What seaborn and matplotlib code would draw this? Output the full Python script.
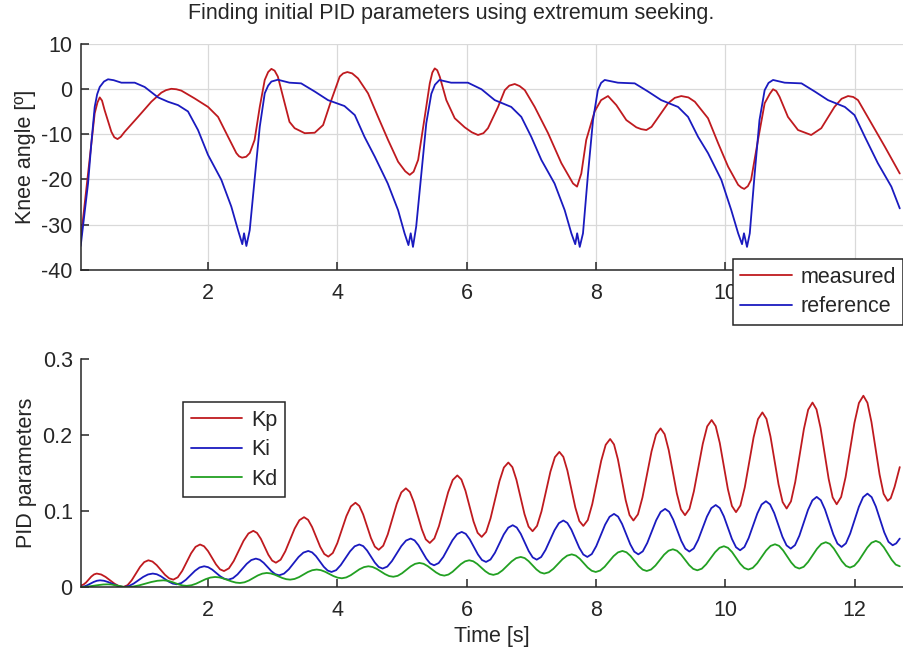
import matplotlib
matplotlib.use("Agg")
import pandas as pd
import seaborn as sns
import matplotlib.pyplot as plt

# knee angle (time [s], angle [deg])
meas_t = [0.03, 0.144, 0.247, 0.29, 0.325, 0.36, 0.4, 0.505, 0.55, 0.6,
          0.65, 0.71, 0.917, 1.123, 1.278, 1.35, 1.432, 1.51, 1.587, 1.79,
          2.0, 2.155, 2.31, 2.438, 2.48, 2.526, 2.59, 2.645, 2.72, 2.8,
          2.877, 2.93, 2.98, 3.03, 3.08, 3.186, 3.26, 3.34, 3.496, 3.65,
          3.78, 3.907, 4.037, 4.09, 4.155, 4.23, 4.32, 4.475, 4.63, 4.785,
          4.94, 5.05, 5.12, 5.18, 5.25, 5.352, 5.43, 5.47, 5.507, 5.545,
          5.584, 5.686, 5.816, 5.97, 6.08, 6.176, 6.26, 6.33, 6.486, 6.59,
          6.66, 6.744, 6.82, 6.9, 7.053, 7.26, 7.465, 7.646, 7.708, 7.774,
          7.85, 7.98, 8.08, 8.187, 8.316, 8.47, 8.625, 8.70, 8.78, 8.86,
          8.934, 9.115, 9.22, 9.32, 9.43, 9.53, 9.734, 9.89, 10.045, 10.2,
          10.25, 10.294, 10.35, 10.4, 10.507, 10.61, 10.69, 10.74, 10.79, 10.84,
          10.97, 11.126, 11.33, 11.486, 11.69, 11.8, 11.9, 11.98, 12.054, 12.26,
          12.47, 12.7]
meas_v = [-33.4, -18.7, -5.4, -3.0, -1.9, -2.6, -4.7, -9.5, -10.7, -11.1,
          -10.6, -9.5, -6.2, -2.85, -0.85, -0.3, 0.0, -0.1, -0.4, -2.1,
          -4.0, -6.2, -10.6, -14.2, -14.9, -15.2, -15.0, -14.2, -11.3, -4.0,
          1.95, 3.7, 4.4, 4.0, 2.7, -3.2, -7.3, -8.7, -9.8, -9.7,
          -8.0, -2.5, 2.7, 3.4, 3.7, 3.4, 2.3, -1.0, -6.2, -11.3,
          -16.1, -18.2, -19.0, -18.3, -15.7, -6.2, 1.2, 3.6, 4.5, 4.1,
          2.7, -2.5, -6.5, -8.5, -9.6, -10.2, -9.8, -8.7, -4.0, -0.3,
          0.7, 1.06, 0.6, -0.3, -4.0, -9.8, -16.4, -20.9, -21.6, -18.7,
          -11.3, -5.0, -2.5, -1.6, -3.6, -6.9, -8.5, -8.9, -9.1, -8.4,
          -6.9, -3.2, -2.0, -1.6, -1.9, -2.85, -6.5, -12.0, -17.2, -21.2,
          -21.8, -22.1, -21.5, -20.1, -11.3, -3.2, -1.1, -0.1, -0.5, -1.75,
          -6.2, -9.1, -10.2, -8.7, -4.0, -2.2, -1.6, -1.8, -2.5, -7.6,
          -12.8, -18.7]

ref_t = [0.03, 0.144, 0.195, 0.247, 0.285, 0.325, 0.39, 0.453, 0.54, 0.66,
         0.866, 1.02, 1.227, 1.38, 1.536, 1.69, 1.845, 2.0, 2.206, 2.36,
         2.464, 2.53, 2.557, 2.593, 2.645, 2.72, 2.8, 2.877, 2.93, 2.98,
         3.08, 3.26, 3.44, 3.65, 3.856, 4.11, 4.27, 4.42, 4.58, 4.78,
         4.94, 5.04, 5.1, 5.135, 5.17, 5.22, 5.3, 5.376, 5.454, 5.51,
         5.58, 5.76, 6.02, 6.23, 6.435, 6.69, 6.846, 7.0, 7.156, 7.36,
         7.517, 7.62, 7.68, 7.71, 7.75, 7.8, 7.878, 7.955, 8.03, 8.08,
         8.136, 8.34, 8.6, 8.806, 9.01, 9.27, 9.425, 9.58, 9.734, 9.94,
         10.094, 10.2, 10.26, 10.29, 10.337, 10.38, 10.456, 10.53, 10.61, 10.67,
         10.74, 10.92, 11.18, 11.385, 11.59, 11.85, 12.0, 12.16, 12.36, 12.57,
         12.7]
ref_v = [-34.7, -20.9, -12.0, -4.0, -1.2, 0.4, 1.6, 2.1, 1.9, 1.35,
         1.35, 0.4, -1.9, -2.85, -3.6, -5.0, -9.1, -14.6, -20.1, -26.0,
         -31.2, -34.3, -31.9, -34.7, -31.2, -20.1, -8.4, -1.0, 0.7, 1.6,
         2.0, 1.35, 1.2, -0.6, -2.5, -3.8, -5.8, -10.6, -15.0, -20.9,
         -26.8, -31.9, -34.5, -31.9, -34.9, -30.4, -18.7, -7.6, -1.1, 0.9,
         1.95, 1.35, 1.35, -0.1, -2.5, -4.0, -6.2, -10.6, -15.7, -20.9,
         -26.8, -31.9, -34.3, -31.9, -34.9, -31.9, -18.7, -6.9, -0.3, 1.3,
         1.95, 1.35, 1.2, -0.6, -2.5, -4.0, -6.2, -10.6, -14.2, -20.1,
         -26.8, -31.9, -34.3, -31.9, -34.9, -31.9, -18.7, -6.9, -0.3, 1.3,
         1.95, 1.35, 1.2, -0.6, -2.5, -4.0, -5.8, -10.6, -16.4, -21.6,
         -26.4]

# PID gains (one line per half swing)
kp_t = [0.03,
        0.071, 0.113, 0.154, 0.195, 0.237, 0.278,
        0.347, 0.415, 0.484, 0.553, 0.621, 0.69,
        0.755, 0.819, 0.884, 0.948, 1.013, 1.077,
        1.141, 1.206, 1.27, 1.334, 1.399, 1.463,
        1.532, 1.601, 1.67, 1.738, 1.807, 1.876,
        1.938, 2.0, 2.062, 2.123, 2.185, 2.247,
        2.323, 2.398, 2.474, 2.549, 2.625, 2.70,
        2.758, 2.817, 2.875, 2.933, 2.992, 3.05,
        3.123, 3.195, 3.268, 3.34, 3.413, 3.485,
        3.548, 3.61, 3.673, 3.735, 3.798, 3.86,
        3.93, 4.0, 4.07, 4.14, 4.21, 4.28,
        4.34, 4.4, 4.46, 4.52, 4.58, 4.64,
        4.71, 4.78, 4.85, 4.92, 4.99, 5.06,
        5.122, 5.183, 5.245, 5.307, 5.368, 5.43,
        5.501, 5.572, 5.643, 5.714, 5.785, 5.856,
        5.919, 5.982, 6.045, 6.107, 6.17, 6.233,
        6.302, 6.37, 6.439, 6.508, 6.576, 6.645,
        6.708, 6.77, 6.833, 6.895, 6.958, 7.02,
        7.089, 7.158, 7.227, 7.296, 7.365, 7.434,
        7.496, 7.558, 7.62, 7.681, 7.743, 7.805,
        7.874, 7.943, 8.013, 8.082, 8.151, 8.22,
        8.28, 8.34, 8.4, 8.46, 8.52, 8.58,
        8.65, 8.72, 8.79, 8.86, 8.93, 9.0,
        9.063, 9.126, 9.189, 9.252, 9.315, 9.378,
        9.447, 9.515, 9.584, 9.653, 9.721, 9.79,
        9.853, 9.916, 9.979, 10.041, 10.104, 10.167,
        10.235, 10.303, 10.371, 10.439, 10.507, 10.575,
        10.638, 10.7, 10.763, 10.825, 10.888, 10.95,
        11.017, 11.083, 11.15, 11.217, 11.283, 11.35,
        11.412, 11.475, 11.537, 11.6, 11.662, 11.724,
        11.793, 11.862, 11.931, 11.999, 12.068, 12.137,
        12.2, 12.262, 12.325, 12.388, 12.45, 12.513,
        12.56, 12.62, 12.7]
kp = [0.002,
      0.0031, 0.0059, 0.0099, 0.0138, 0.0166, 0.0177,
      0.0165, 0.0133, 0.0089, 0.0044, 0.0012, 0.0,
      0.0024, 0.0088, 0.0176, 0.0264, 0.0328, 0.0352,
      0.0335, 0.0288, 0.0225, 0.0161, 0.0114, 0.0097,
      0.0128, 0.0213, 0.0329, 0.0444, 0.0529, 0.056,
      0.0537, 0.0473, 0.0385, 0.0298, 0.0233, 0.021,
      0.0246, 0.0343, 0.0475, 0.0608, 0.0705, 0.074,
      0.0712, 0.0635, 0.053, 0.0425, 0.0348, 0.032,
      0.036, 0.047, 0.062, 0.077, 0.088, 0.092,
      0.0885, 0.079, 0.066, 0.053, 0.0435, 0.040,
      0.0448, 0.0578, 0.0755, 0.0933, 0.1062, 0.111,
      0.1068, 0.0955, 0.08, 0.0645, 0.0532, 0.049,
      0.0544, 0.0693, 0.0895, 0.1098, 0.1246, 0.130,
      0.1252, 0.112, 0.094, 0.076, 0.0628, 0.058,
      0.064, 0.0803, 0.1025, 0.1248, 0.141, 0.147,
      0.1416, 0.1268, 0.1065, 0.0863, 0.0714, 0.066,
      0.0726, 0.0905, 0.115, 0.1395, 0.1574, 0.164,
      0.1579, 0.1414, 0.1188, 0.0961, 0.0796, 0.0735,
      0.0805, 0.0996, 0.1258, 0.1519, 0.171, 0.178,
      0.1715, 0.1536, 0.1293, 0.1049, 0.087, 0.0805,
      0.0882, 0.1091, 0.1378, 0.1664, 0.1873, 0.195,
      0.1878, 0.1682, 0.1413, 0.1145, 0.0948, 0.0876,
      0.0957, 0.118, 0.1483, 0.1786, 0.2009, 0.209,
      0.2013, 0.1804, 0.1518, 0.1232, 0.1023, 0.0946,
      0.103, 0.126, 0.1573, 0.1887, 0.2116, 0.220,
      0.2119, 0.1897, 0.1593, 0.129, 0.1067, 0.0986,
      0.1074, 0.1315, 0.1643, 0.1972, 0.2212, 0.230,
      0.2215, 0.1984, 0.1667, 0.1351, 0.1119, 0.1034,
      0.1128, 0.1383, 0.1732, 0.2081, 0.2336, 0.243,
      0.234, 0.2095, 0.176, 0.1425, 0.118, 0.109,
      0.1186, 0.1448, 0.1805, 0.2163, 0.2424, 0.252,
      0.2427, 0.2174, 0.1828, 0.1481, 0.1228, 0.1135,
      0.117, 0.132, 0.158]

ki_t = [0.03,
        0.08, 0.13, 0.18, 0.23, 0.28, 0.33,
        0.392, 0.453, 0.515, 0.577, 0.638, 0.70,
        0.774, 0.848, 0.923, 0.997, 1.071, 1.145,
        1.207, 1.269, 1.331, 1.392, 1.454, 1.516,
        1.587, 1.657, 1.728, 1.799, 1.869, 1.94,
        2.002, 2.065, 2.127, 2.189, 2.252, 2.314,
        2.385, 2.456, 2.527, 2.598, 2.669, 2.74,
        2.8, 2.86, 2.92, 2.98, 3.04, 3.10,
        3.175, 3.25, 3.325, 3.40, 3.475, 3.55,
        3.61, 3.67, 3.73, 3.79, 3.85, 3.91,
        3.982, 4.053, 4.125, 4.197, 4.268, 4.34,
        4.4, 4.46, 4.52, 4.58, 4.64, 4.70,
        4.773, 4.845, 4.918, 4.99, 5.063, 5.135,
        5.195, 5.255, 5.316, 5.376, 5.436, 5.496,
        5.567, 5.639, 5.71, 5.781, 5.853, 5.924,
        5.987, 6.049, 6.112, 6.175, 6.237, 6.30,
        6.369, 6.438, 6.507, 6.575, 6.644, 6.713,
        6.775, 6.837, 6.899, 6.96, 7.022, 7.084,
        7.153, 7.221, 7.29, 7.359, 7.427, 7.496,
        7.558, 7.62, 7.682, 7.743, 7.805, 7.867,
        7.936, 8.005, 8.074, 8.142, 8.211, 8.28,
        8.343, 8.405, 8.468, 8.531, 8.593, 8.656,
        8.725, 8.794, 8.863, 8.932, 9.001, 9.07,
        9.133, 9.195, 9.258, 9.32, 9.383, 9.445,
        9.513, 9.581, 9.649, 9.717, 9.785, 9.853,
        9.916, 9.979, 10.042, 10.104, 10.167, 10.23,
        10.297, 10.363, 10.43, 10.497, 10.563, 10.63,
        10.694, 10.758, 10.822, 10.885, 10.949, 11.013,
        11.08, 11.147, 11.214, 11.281, 11.348, 11.415,
        11.479, 11.543, 11.608, 11.672, 11.736, 11.80,
        11.867, 11.933, 12.0, 12.067, 12.133, 12.2,
        12.265, 12.33, 12.395, 12.46, 12.525, 12.59,
        12.645, 12.70]
ki = [0.0,
      0.0006, 0.0022, 0.0044, 0.0066, 0.0082, 0.0088,
      0.0082, 0.0066, 0.0044, 0.0022, 0.0006, 0.0,
      0.0012, 0.0044, 0.0089, 0.0133, 0.0165, 0.0177,
      0.0168, 0.0142, 0.0107, 0.0071, 0.0045, 0.0036,
      0.0052, 0.0095, 0.0155, 0.0214, 0.0257, 0.0273,
      0.0261, 0.0229, 0.0185, 0.0141, 0.0109, 0.0097,
      0.0116, 0.0166, 0.0236, 0.0305, 0.0355, 0.0374,
      0.0359, 0.0319, 0.0264, 0.0209, 0.0169, 0.0154,
      0.0176, 0.0234, 0.0315, 0.0395, 0.0453, 0.0475,
      0.0456, 0.0406, 0.0337, 0.0267, 0.0217, 0.0198,
      0.0222, 0.0289, 0.0379, 0.047, 0.0536, 0.056,
      0.0539, 0.0481, 0.0402, 0.0322, 0.0264, 0.0243,
      0.0269, 0.0342, 0.0441, 0.0539, 0.0612, 0.0638,
      0.0614, 0.055, 0.0462, 0.0374, 0.031, 0.0286,
      0.0315, 0.0396, 0.0506, 0.0616, 0.0697, 0.0726,
      0.07, 0.0627, 0.0528, 0.0429, 0.0356, 0.033,
      0.0362, 0.0451, 0.0572, 0.0693, 0.0782, 0.0814,
      0.0784, 0.0701, 0.0587, 0.0474, 0.039, 0.036,
      0.0395, 0.0489, 0.0618, 0.0747, 0.0841, 0.0876,
      0.0844, 0.0756, 0.0636, 0.0516, 0.0428, 0.0396,
      0.0434, 0.0538, 0.068, 0.0821, 0.0925, 0.0963,
      0.0927, 0.083, 0.0697, 0.0563, 0.0466, 0.043,
      0.047, 0.058, 0.073, 0.0879, 0.0989, 0.1029,
      0.0991, 0.0889, 0.0748, 0.0608, 0.0505, 0.0467,
      0.0508, 0.062, 0.0774, 0.0927, 0.1039, 0.108,
      0.104, 0.0931, 0.0782, 0.0633, 0.0524, 0.0484,
      0.0527, 0.0646, 0.0807, 0.0969, 0.1087, 0.113,
      0.1088, 0.0974, 0.0818, 0.0662, 0.0548, 0.0506,
      0.0552, 0.0676, 0.0847, 0.1017, 0.1141, 0.1187,
      0.1143, 0.1022, 0.0858, 0.0693, 0.0572, 0.0528,
      0.0575, 0.0704, 0.0879, 0.1055, 0.1183, 0.123,
      0.1184, 0.106, 0.089, 0.072, 0.0596, 0.055,
      0.0575, 0.0638]

kd_t = [0.03,
        0.1, 0.17, 0.24, 0.31, 0.38, 0.45,
        0.5, 0.55, 0.6, 0.65, 0.7, 0.75,
        0.843, 0.937, 1.03, 1.123, 1.217, 1.31,
        1.37, 1.43, 1.49, 1.55, 1.61, 1.67,
        1.743, 1.816, 1.889, 1.962, 2.035, 2.108,
        2.173, 2.237, 2.302, 2.366, 2.431, 2.495,
        2.564, 2.633, 2.702, 2.77, 2.839, 2.908,
        2.968, 3.029, 3.089, 3.149, 3.21, 3.27,
        3.338, 3.407, 3.475, 3.543, 3.612, 3.68,
        3.745, 3.81, 3.875, 3.94, 4.005, 4.07,
        4.138, 4.207, 4.275, 4.343, 4.412, 4.48,
        4.544, 4.609, 4.673, 4.737, 4.802, 4.866,
        4.933, 5.001, 5.068, 5.135, 5.203, 5.27,
        5.334, 5.398, 5.463, 5.527, 5.591, 5.655,
        5.719, 5.783, 5.848, 5.912, 5.976, 6.04,
        6.102, 6.164, 6.227, 6.289, 6.351, 6.413,
        6.484, 6.554, 6.625, 6.696, 6.766, 6.837,
        6.898, 6.958, 7.019, 7.079, 7.14, 7.2,
        7.271, 7.342, 7.413, 7.484, 7.555, 7.626,
        7.688, 7.75, 7.812, 7.873, 7.935, 7.997,
        8.066, 8.135, 8.204, 8.272, 8.341, 8.41,
        8.473, 8.535, 8.598, 8.661, 8.723, 8.786,
        8.853, 8.921, 8.988, 9.055, 9.123, 9.19,
        9.253, 9.316, 9.379, 9.442, 9.505, 9.568,
        9.637, 9.705, 9.774, 9.843, 9.911, 9.98,
        10.043, 10.106, 10.169, 10.231, 10.294, 10.357,
        10.426, 10.495, 10.564, 10.632, 10.701, 10.77,
        10.833, 10.895, 10.958, 11.021, 11.083, 11.146,
        11.214, 11.282, 11.351, 11.419, 11.487, 11.555,
        11.618, 11.68, 11.743, 11.805, 11.868, 11.93,
        11.997, 12.063, 12.13, 12.197, 12.263, 12.33,
        12.392, 12.453, 12.515, 12.577, 12.638, 12.70]
kd = [0.0,
      0.0002, 0.0009, 0.0018, 0.0026, 0.0033, 0.0035,
      0.0033, 0.0026, 0.0018, 0.0009, 0.0002, 0.0,
      0.0006, 0.0022, 0.0044, 0.0066, 0.0082, 0.0088,
      0.0083, 0.007, 0.0052, 0.0033, 0.002, 0.0015,
      0.0023, 0.0044, 0.0074, 0.0103, 0.0124, 0.0132,
      0.0127, 0.0112, 0.0093, 0.0073, 0.0058, 0.0053,
      0.0062, 0.0086, 0.0119, 0.0152, 0.0176, 0.0185,
      0.0179, 0.0163, 0.0141, 0.0119, 0.0103, 0.0097,
      0.0106, 0.013, 0.0164, 0.0197, 0.0221, 0.023,
      0.0222, 0.0201, 0.0173, 0.0144, 0.0123, 0.0115,
      0.0126, 0.0155, 0.0194, 0.0234, 0.0262, 0.0273,
      0.0264, 0.0239, 0.0204, 0.017, 0.0144, 0.0135,
      0.0147, 0.0181, 0.0226, 0.0272, 0.0305, 0.0317,
      0.0306, 0.0275, 0.0234, 0.0192, 0.0161, 0.015,
      0.0164, 0.0201, 0.0251, 0.0302, 0.0338, 0.0352,
      0.0339, 0.0304, 0.0256, 0.0208, 0.0173, 0.016,
      0.0176, 0.0219, 0.0278, 0.0337, 0.038, 0.0396,
      0.0381, 0.0341, 0.0287, 0.0232, 0.0192, 0.0177,
      0.0194, 0.024, 0.0304, 0.0367, 0.0413, 0.043,
      0.0414, 0.0372, 0.0314, 0.0256, 0.0214, 0.0198,
      0.0217, 0.0267, 0.0337, 0.0406, 0.0456, 0.0475,
      0.0457, 0.0409, 0.0343, 0.0277, 0.0229, 0.0211,
      0.023, 0.0283, 0.0354, 0.0426, 0.0478, 0.0497,
      0.0478, 0.0428, 0.0359, 0.0289, 0.0239, 0.022,
      0.0241, 0.0299, 0.0379, 0.0458, 0.0516, 0.0537,
      0.0516, 0.046, 0.0384, 0.0307, 0.0251, 0.023,
      0.0252, 0.0313, 0.0397, 0.048, 0.0541, 0.0563,
      0.0542, 0.0483, 0.0403, 0.0323, 0.0264, 0.0243,
      0.0266, 0.033, 0.0417, 0.0503, 0.0567, 0.059,
      0.0568, 0.0507, 0.0423, 0.034, 0.0278, 0.0256,
      0.028, 0.0344, 0.0432, 0.0519, 0.0583, 0.0607,
      0.0585, 0.0524, 0.044, 0.0357, 0.0295, 0.0273]

x_ticks = [2, 4, 6, 8, 10, 12]
knee_ticks = [-40, -30, -20, -10, 0, 10]
pid_ticks = [0, 0.1, 0.2, 0.3]
pid_labels = ["0", "0.1", "0.2", "0.3"]

RED, BLUE, GREEN = "#BF1A1F", "#1A1ABF", "#22A022"
INK = "#262626"
FS = 15.5

sns.set_theme(style="white")
plt.rcParams["font.family"] = ["Liberation Sans", "DejaVu Sans"]
plt.rcParams["axes.unicode_minus"] = False

knee = pd.concat([
    pd.DataFrame({"t": meas_t, "angle": meas_v, "series": "measured"}),
    pd.DataFrame({"t": ref_t, "angle": ref_v, "series": "reference"}),
])
pid = pd.concat([
    pd.DataFrame({"t": kp_t, "gain": kp, "series": "Kp"}),
    pd.DataFrame({"t": ki_t, "gain": ki, "series": "Ki"}),
    pd.DataFrame({"t": kd_t, "gain": kd, "series": "Kd"}),
])

fig = plt.figure(figsize=(9.04, 6.62), dpi=100)
W, H = 904, 662
ax1 = fig.add_axes([81 / W, 1 - 270 / H, 822 / W, (270 - 43.5) / H])
ax2 = fig.add_axes([81 / W, 1 - 587 / H, 822 / W, (587 - 359.3) / H])

sns.lineplot(data=knee, x="t", y="angle", hue="series", estimator=None, sort=False,
             palette={"measured": RED, "reference": BLUE}, lw=1.3, ax=ax1)
sns.lineplot(data=pid, x="t", y="gain", hue="series", estimator=None, sort=False,
             palette={"Kp": RED, "Ki": BLUE, "Kd": GREEN}, lw=1.3, ax=ax2)


def style(ax):
    for s in ["top", "right"]:
        ax.spines[s].set_visible(False)
    for s in ["left", "bottom"]:
        ax.spines[s].set_color(INK)
        ax.spines[s].set_linewidth(1.1)
    ax.tick_params(direction="in", length=5.5, width=1.1, colors=INK, labelsize=FS,
                   left=True, bottom=True)
    ax.tick_params(axis="x", pad=9)
    ax.tick_params(axis="y", pad=6)
    ax.set_xlim(0.035, 12.75)
    ax.set_xticks(x_ticks)


style(ax1)
# the "12" label sits under the legend in the original, so it is left empty
ax1.set_xticklabels([str(v) for v in x_ticks[:-1]] + [""])
ax1.set_ylim(-40, 10)
ax1.set_yticks(knee_ticks)
ax1.set_yticklabels([str(v) for v in knee_ticks])
ax1.grid(True, color="#d9d9d9", lw=0.9)
ax1.set_axisbelow(True)
ax1.set_xlabel("")
ax1.set_ylabel("Knee angle [º]", fontsize=FS, color=INK, labelpad=4)

style(ax2)
ax2.set_xticklabels([str(v) for v in x_ticks])
ax2.set_ylim(0, 0.3)
ax2.set_yticks(pid_ticks)
ax2.set_yticklabels(pid_labels)
ax2.set_xlabel("Time [s]", fontsize=FS, color=INK, labelpad=4)
ax2.set_ylabel("PID parameters", fontsize=FS, color=INK, labelpad=4)

legend_kw = dict(fontsize=FS, frameon=True, fancybox=False, framealpha=1,
                 edgecolor=INK, handlelength=2.4, handletextpad=0.4,
                 labelspacing=0.4, borderpad=0.35, borderaxespad=0,
                 bbox_transform=fig.transFigure)
h, l = ax1.get_legend_handles_labels()
leg1 = ax1.legend(h, l, loc="upper right", bbox_to_anchor=(903.5 / W, 1 - 259 / H), **legend_kw)
h, l = ax2.get_legend_handles_labels()
leg2 = ax2.legend(h, l, loc="upper left", bbox_to_anchor=(183 / W, 1 - 402 / H), **legend_kw)
for leg in (leg1, leg2):
    leg.get_frame().set_linewidth(1.1)
    for line in leg.get_lines():
        line.set_linewidth(1.3)

fig.suptitle("Finding initial PID parameters using extremum seeking.",
             fontsize=FS, color=INK, x=451 / W, y=1 - 13 / H, va="center")

fig.savefig("out.png", dpi=100)
